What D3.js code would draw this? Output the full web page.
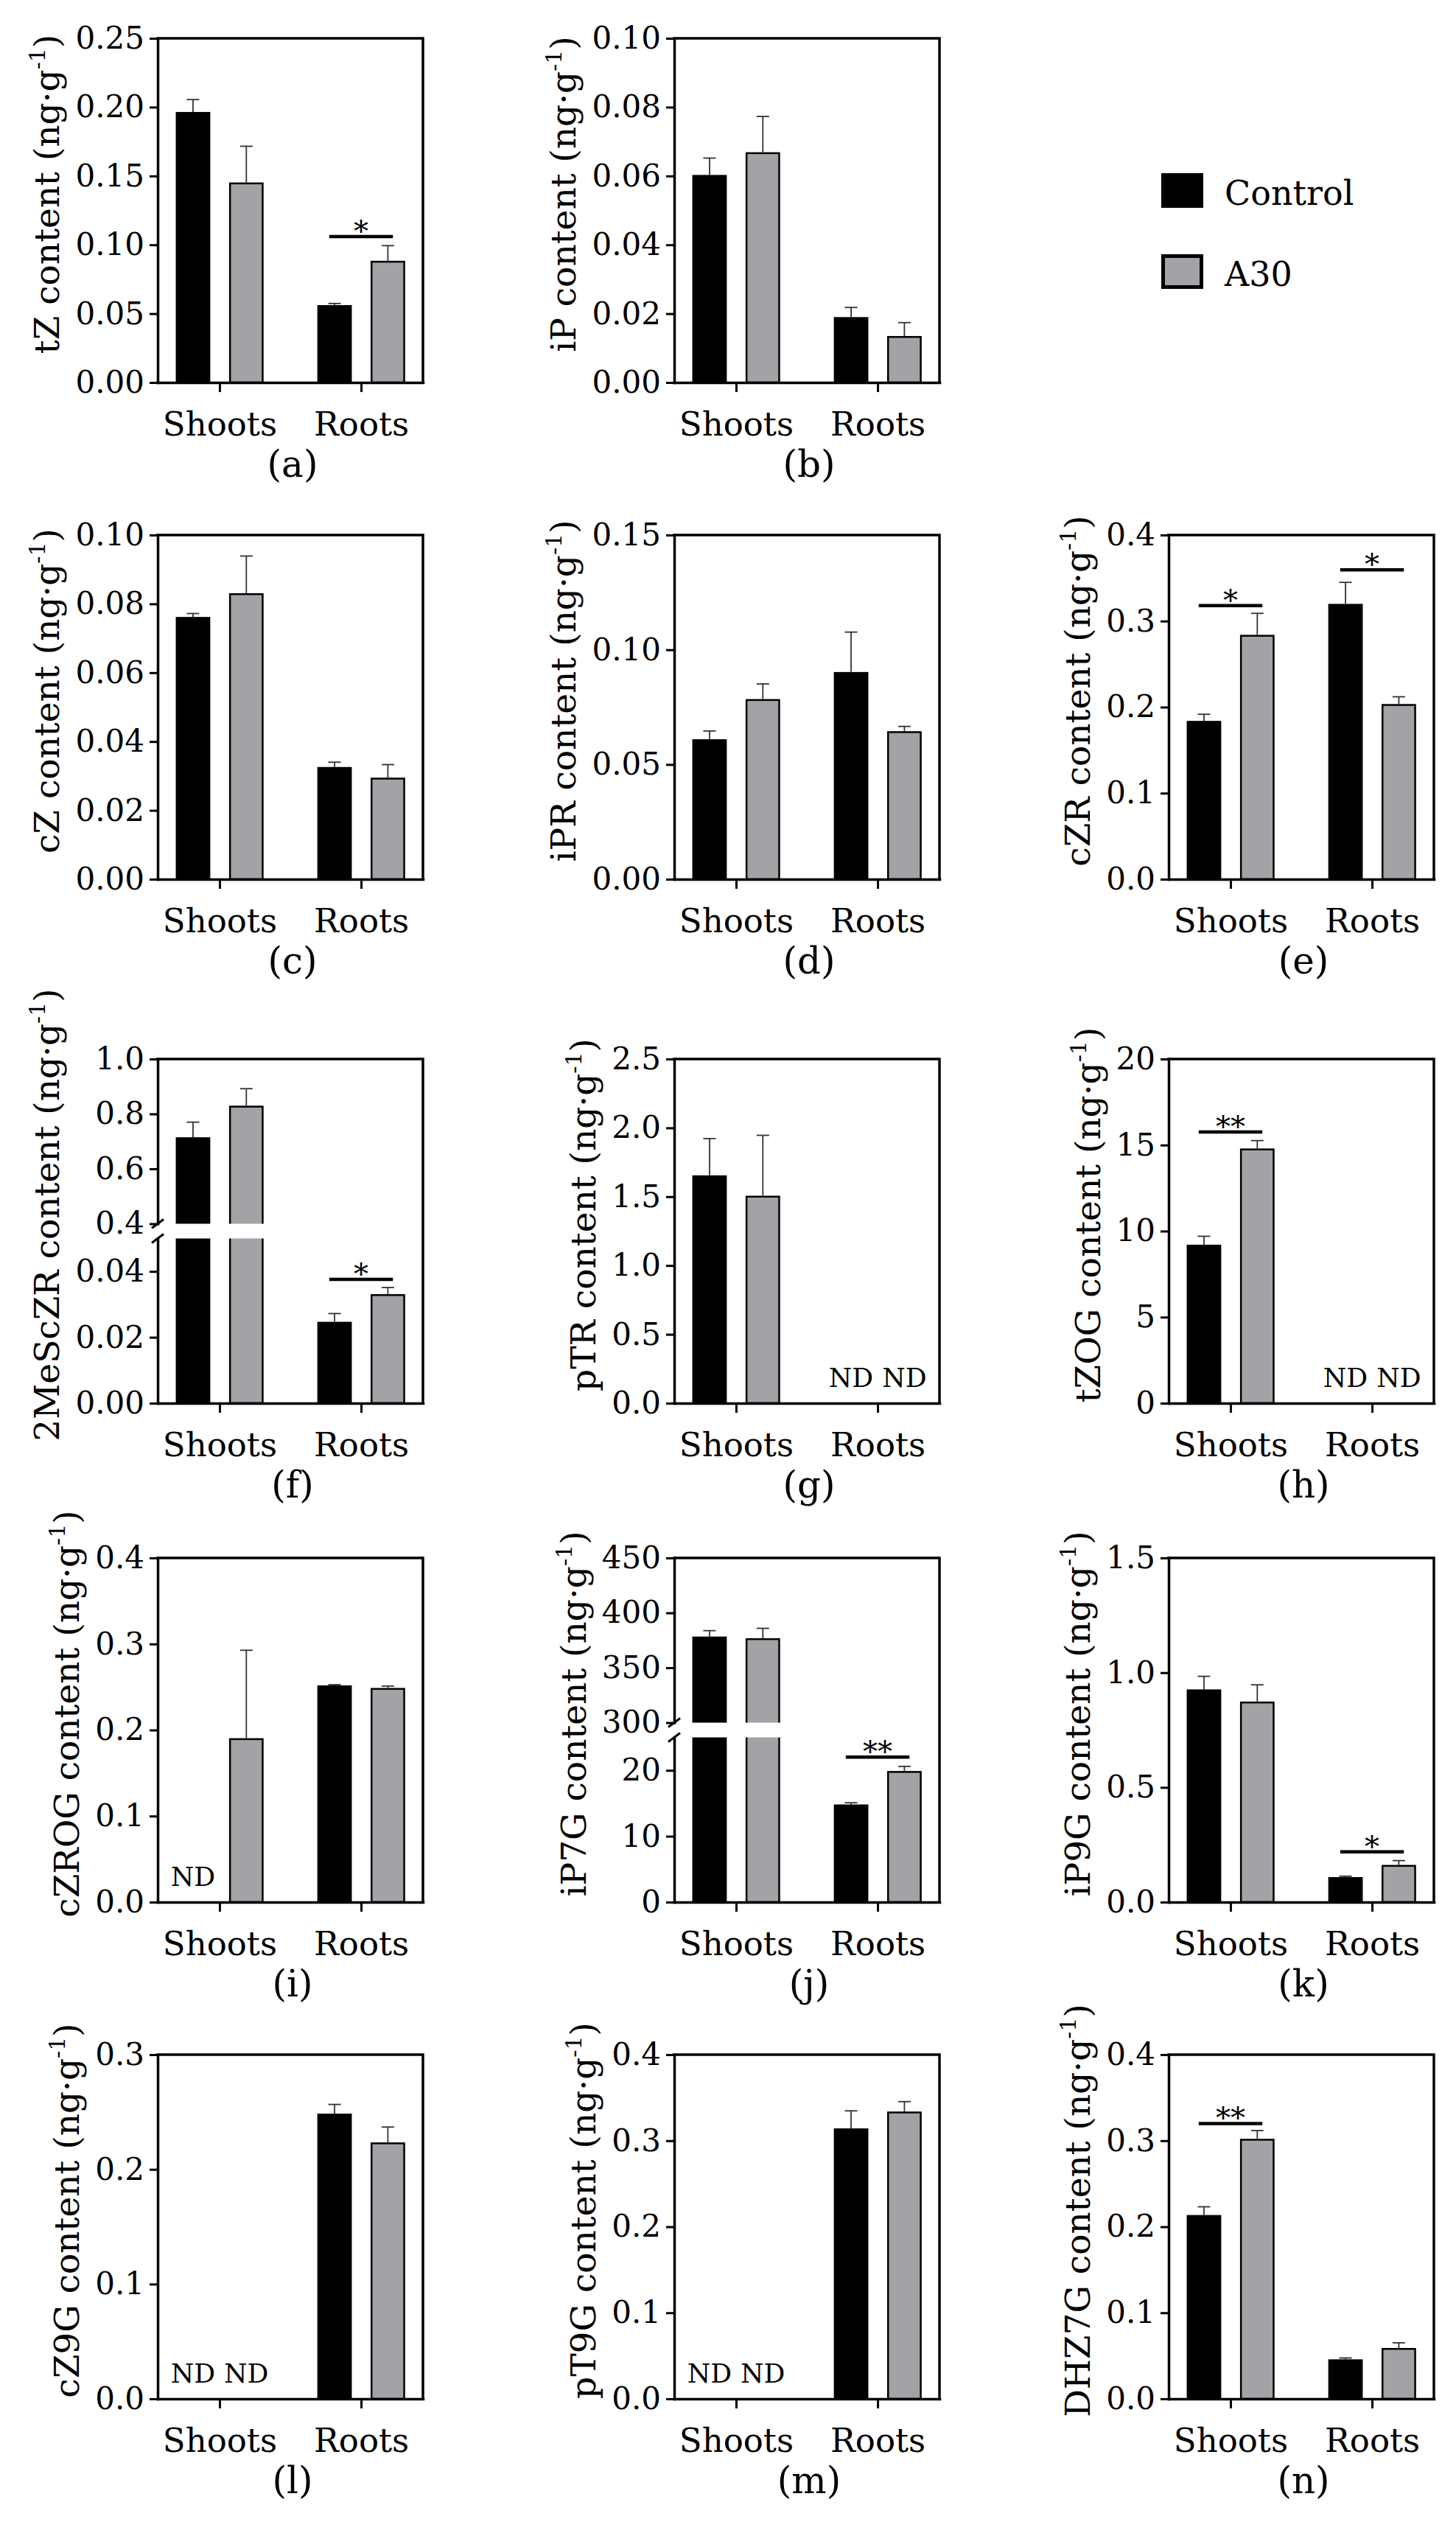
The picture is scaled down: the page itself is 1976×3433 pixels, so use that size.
<!DOCTYPE html>
<html><head><meta charset="utf-8">
<script src="https://cdn.jsdelivr.net/npm/d3@7"></script>
<style>
body{margin:0;background:#fff}
svg{display:block}
text{font-family:"DejaVu Serif","Liberation Serif",serif;fill:#000}
</style>
</head><body>
<svg id="chart" width="1976" height="3433"></svg>
<script>
// ---------------- DATA ----------------
const panelIds = ["a","b","c","d","e","f","g","h","i","j","k","l","m","n"];
const compounds = ["tZ","iP","cZ","iPR","cZR","2MeScZR","pTR","tZOG","cZROG","iP7G","iP9G","cZ9G","pT9G","DHZ7G"];
const tissues = ["Shoots","Roots"];
const treatments = ["Control","A30"];
// [Shoots, Roots]; null = ND (not detected)
const controlMean = [[0.1965,0.0562],[0.0603,0.0190],[0.0762,0.0326],[0.0610,0.0903],[0.184,0.320],[0.715,0.0247],[1.655,null],[9.21,null],[null,0.2519],[378.4,14.82],[0.927,0.109],[null,0.2486],[null,0.3143],[0.2136,0.0459]];
const controlSem  = [[0.009,0.0012],[0.0049,0.0028],[0.0010,0.0014],[0.0036,0.0174],[0.0077,0.025],[0.055,0.0025],[0.267,null],[0.49,null],[null,0.0008],[5.4,0.26],[0.057,0.004],[null,0.008],[null,0.0204],[0.0096,0.0016]];
const a30Mean     = [[0.1453,0.0884],[0.0669,0.0135],[0.0831,0.0295],[0.0785,0.0645],[0.284,0.2036],[0.830,0.0331],[1.507,null],[14.80,null],[0.1905,0.2489],[376.9,19.9],[0.874,0.162],[null,0.2235],[null,0.3339],[0.3022,0.0591]];
const a30Sem      = [[0.0263,0.011],[0.0104,0.0039],[0.0108,0.0038],[0.0066,0.0021],[0.025,0.0084],[0.062,0.002],[0.439,null],[0.46,null],[0.1022,0.0022],[9.0,0.7],[0.073,0.019],[null,0.0134],[null,0.0115],[0.0096,0.006]];
// y domains; broken axes given as [lower, upper]
const yDomains = [[0,0.25],[0,0.10],[0,0.10],[0,0.15],[0,0.4],[[0,0.05],[0.4,1.0]],[0,2.5],[0,20],[0,0.4],[[0,25],[300,450]],[0,1.5],[0,0.3],[0,0.4],[0,0.4]];
const yTickValues = [
  [0,0.05,0.10,0.15,0.20,0.25],
  [0,0.02,0.04,0.06,0.08,0.10],
  [0,0.02,0.04,0.06,0.08,0.10],
  [0,0.05,0.10,0.15],
  [0,0.1,0.2,0.3,0.4],
  [[0,0.02,0.04],[0.4,0.6,0.8,1.0]],
  [0,0.5,1.0,1.5,2.0,2.5],
  [0,5,10,15,20],
  [0,0.1,0.2,0.3,0.4],
  [[0,10,20],[300,350,400,450]],
  [0,0.5,1.0,1.5],
  [0,0.1,0.2,0.3],
  [0,0.1,0.2,0.3,0.4],
  [0,0.1,0.2,0.3,0.4]
];
const yTickDecimals = [2,2,2,2,1,[2,1],1,0,1,[0,0],1,1,1,1];
// significance: panel, tissue, bar height, label
const sigPanel = ["a","e","e","f","h","j","k","n"];
const sigTissue = ["Roots","Shoots","Roots","Roots","Shoots","Roots","Roots","Shoots"];
const sigLevel = [0.106,0.318,0.3595,0.0376,15.76,22.0,0.219,0.320];
const sigText = ["*","*","*","*","**","**","*","**"];

// ---------------- LAYOUT ----------------
const svg = d3.select("#chart");
svg.append("rect").attr("width",1976).attr("height",3433).attr("fill","#fff");
const W = 360, H = 467, GAP = 20, SEG = (H - GAP) / 2;
const colX = [214, 915, 1586];
const rowY = [52, 726, 1437, 2114, 2788];
const panelCell = [[0,0],[1,0],[0,1],[1,1],[2,1],[0,2],[1,2],[2,2],[0,3],[1,3],[2,3],[0,4],[1,4],[2,4]];
const GRAY = "#a3a2a7";
const TICK_FS = 42, CAT_FS = 45, LAB_FS = 47, PANEL_FS = 50;

const x0 = d3.scalePoint().domain(tissues).range([0, W]).padding(0.437);
const x1 = d3.scaleBand().domain(treatments).range([-0.165 * W, 0.166 * W]).paddingInner(0.353);
const color = d3.scaleOrdinal().domain(treatments).range(["#000", GRAY]);

function styleAxis(sel){
  sel.attr("font-size", null).attr("font-family", null);
  sel.select(".domain").attr("stroke-width", 3.5).attr("stroke-linecap", "square");
  sel.selectAll(".tick line").attr("stroke-width", 3);
}

panelIds.forEach((id, i) => {
  const [c, r] = panelCell[i];
  const g = svg.append("g").attr("transform", `translate(${colX[c]},${rowY[r]})`);
  const dom = yDomains[i];
  const broken = Array.isArray(dom[0]);
  let yLow, yUp, yf;
  if (broken) {
    yLow = d3.scaleLinear().domain(dom[0]).range([H, H - SEG]);
    yUp = d3.scaleLinear().domain(dom[1]).range([SEG, 0]);
    yf = v => (v <= dom[0][1] ? yLow(v) : yUp(v));
  } else {
    yLow = d3.scaleLinear().domain(dom).range([H, 0]);
    yf = yLow;
  }

  // frame (top + right)
  g.append("path").attr("d", `M0,0H${W}V${H}`).attr("fill", "none")
    .attr("stroke", "#000").attr("stroke-width", 3.5).attr("stroke-linecap", "square");

  const rows = [];
  tissues.forEach((t, ti) => {
    treatments.forEach((tr, k) => {
      rows.push({
        t, tr,
        mean: (k === 0 ? controlMean : a30Mean)[i][ti],
        err: (k === 0 ? controlSem : a30Sem)[i][ti]
      });
    });
  });
  const present = rows.filter(d => d.mean !== null);
  const absent = rows.filter(d => d.mean === null);

  // error bars
  const eb = g.append("g").attr("stroke", "#333").attr("stroke-width", 1.8);
  present.forEach(d => {
    const cx = x0(d.t) + x1(d.tr) + x1.bandwidth() / 2;
    const yt = yf(d.mean + d.err);
    eb.append("line").attr("x1", cx).attr("x2", cx).attr("y1", yf(d.mean)).attr("y2", yt);
    eb.append("line").attr("x1", cx - 8.5).attr("x2", cx + 8.5).attr("y1", yt).attr("y2", yt);
  });

  // bars
  g.append("g").selectAll("rect").data(present).join("rect")
    .attr("x", d => x0(d.t) + x1(d.tr) + (d.tr === "A30" ? 1.25 : 0))
    .attr("width", d => x1.bandwidth() - (d.tr === "A30" ? 2.5 : 0))
    .attr("y", d => yf(d.mean) + (d.tr === "A30" ? 1.25 : 0))
    .attr("height", d => H - yf(d.mean) - (d.tr === "A30" ? 1.25 : 0))
    .attr("fill", d => color(d.tr))
    .attr("stroke", d => d.tr === "A30" ? "#000" : "none")
    .attr("stroke-width", 2.5);

  // axis break gap
  if (broken) {
    g.append("rect").attr("x", -4).attr("y", SEG).attr("width", W - 2).attr("height", GAP).attr("fill", "#fff");
  }

  // ND labels
  g.append("g").selectAll("text").data(absent).join("text")
    .attr("x", d => x0(d.t) + x1(d.tr) + x1.bandwidth() / 2)
    .attr("y", H - 22)
    .attr("text-anchor", "middle")
    .attr("font-size", 36)
    .text("ND");

  // left axis
  const yAxes = [];
  if (broken) {
    const decs = yTickDecimals[i];
    const a1 = g.append("g").attr("class", "yaxis")
      .call(d3.axisLeft(yLow).tickValues(yTickValues[i][0]).tickFormat(d3.format(`.${decs[0]}f`))
        .tickSize(11).tickSizeOuter(0).tickPadding(7));
    const a2 = g.append("g").attr("class", "yaxis")
      .call(d3.axisLeft(yUp).tickValues(yTickValues[i][1]).tickFormat(d3.format(`.${decs[1]}f`))
        .tickSize(11).tickSizeOuter(0).tickPadding(7));
    yAxes.push(a1, a2);
    // break marks
    [SEG, H - SEG].forEach(yy => {
      g.append("line").attr("x1", -8).attr("x2", 8).attr("y1", yy + 6).attr("y2", yy - 6)
        .attr("stroke", "#000").attr("stroke-width", 3);
    });
  } else {
    const a1 = g.append("g").attr("class", "yaxis")
      .call(d3.axisLeft(yLow).tickValues(yTickValues[i]).tickFormat(d3.format(`.${yTickDecimals[i]}f`))
        .tickSize(11).tickSizeOuter(0).tickPadding(7));
    yAxes.push(a1);
  }
  yAxes.forEach(a => { styleAxis(a); a.selectAll("text").attr("font-size", TICK_FS); });

  // bottom axis
  const xa = g.append("g").attr("transform", `translate(0,${H})`)
    .call(d3.axisBottom(x0).tickSize(13).tickSizeOuter(0));
  styleAxis(xa);
  xa.selectAll("text").attr("font-size", CAT_FS).attr("y", 72).attr("dy", null);

  // significance bars
  sigPanel.forEach((p, s) => {
    if (p !== id) return;
    const gx = x0(sigTissue[s]);
    const yy = yf(sigLevel[s]);
    g.append("line").attr("x1", gx - 0.12 * W).attr("x2", gx + 0.12 * W).attr("y1", yy).attr("y2", yy)
      .attr("stroke", "#000").attr("stroke-width", 4.5);
    g.append("text").attr("x", gx).attr("y", yy + 6).attr("text-anchor", "middle")
      .attr("font-size", 40).text(sigText[s]);
  });

  // y label
  let maxW = 0;
  g.selectAll(".yaxis text").each(function(){ maxW = Math.max(maxW, this.getBBox().width); });
  const lx = -(11 + 7 + maxW + 22);
  const lab = g.append("text").attr("transform", `translate(${lx},${H / 2 - 22}) rotate(-90)`)
    .attr("text-anchor", "middle").attr("font-size", LAB_FS);
  lab.append("tspan").text(`${compounds[i]} content (ng·g`);
  lab.append("tspan").attr("font-size", 30).attr("dy", -19).text("-1");
  lab.append("tspan").attr("dy", 19).text(")");

  // panel label
  g.append("text").attr("x", W / 2 + 3).attr("y", H + 128).attr("text-anchor", "middle")
    .attr("font-size", PANEL_FS).text(`(${id})`);
});

// legend
const leg = svg.append("g");
treatments.forEach((tr, k) => {
  const ly = [235, 345][k];
  if (tr === "Control") {
    leg.append("rect").attr("x", 1576).attr("y", ly).attr("width", 57).attr("height", 47).attr("fill", color(tr));
  } else {
    leg.append("rect").attr("x", 1578.5).attr("y", ly + 2.5).attr("width", 52).attr("height", 42)
      .attr("fill", color(tr)).attr("stroke", "#000").attr("stroke-width", 5);
  }
  leg.append("text").attr("x", 1662).attr("y", ly + 43).attr("font-size", 46).text(tr);
});
</script>
</body></html>
